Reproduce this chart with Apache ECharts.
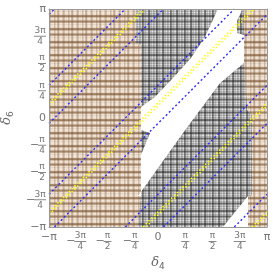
<!DOCTYPE html>
<html><head><meta charset="utf-8">
<script src="https://cdn.jsdelivr.net/npm/echarts@6/dist/echarts.min.js"></script>
<style>html,body{margin:0;padding:0;background:#fff}#c{width:273px;height:273px}</style>
</head><body><div id="c"></div>
<script>
// all coordinates in units of π
const tickValues = [-1, -0.75, -0.5, -0.25, 0, 0.25, 0.5, 0.75, 1];
const tickSigns = ['−', '−', '−', '−', '', '', '', '', ''];
const tickNumerators = ['π', '3π', 'π', 'π', '0', 'π', 'π', '3π', 'π'];
const tickDenominators = ['', '4', '2', '4', '', '4', '2', '4', ''];

// dashed blue lines δ6 = δ4 + c  (c in units of π)
const blueOffsets = [-1.7, -1.05, -0.7, -0.05, 0.3, 0.95, 1.3, 1.95];
// dotted yellow lines δ6 = δ4 + c
const yellowOffsets = [-1.875, -0.875, 0.125, 1.125];

// regions [δ4/π, δ6/π]
const tanRegion = [[-1, -1], [1, -1], [1, 1], [-1, 1]];
const grayRegion = [[-0.202, 1.0], [0.789, 1.0], [0.789, 0.505], [0.817, 0.073], [0.862, 0.028],
  [0.862, -0.706], [0.826, -0.725], [0.826, -1.0], [-0.183, -1.0], [-0.156, -0.706],
  [-0.156, 0.670], [-0.202, 0.688]];
const whiteBand = [[0.550, 1.0], [0.771, 1.0], [0.752, 0.945], [0.725, 0.899], [0.725, 0.780],
  [0.789, 0.761], [0.789, 0.505], [0.569, 0.321], [0.229, -0.138], [-0.183, -0.716],
  [-0.156, -0.716], [-0.156, -0.339], [-0.073, -0.138], [-0.156, -0.110], [-0.156, 0.101],
  [-0.028, 0.193], [0.138, 0.367], [0.303, 0.550], [0.431, 0.743], [0.495, 0.881]];
const whiteCorner = [[0.596, -1.0], [0.826, -0.716], [0.826, -1.0]];

// plaid textures (decoration)
const tanH = [0.0, 0.1, 0.85, 1.0, 0.35, 0.0, 0.05, 0.5, 0.9, 0.6, 0.0, 0.15, 0.0];
const tanV = [0.0, 0.6, 0.8, 0.2, 0.0, 0.0, 0.3, 0.7, 0.5, 0.0, 0.1, 0.0, 0.6, 0.3];
const grayH = [0.3, 0.2, 0.9, 1.0, 0.3, 0.0, 0.3, 0.4, 0.95, 0.5, 0.1, 0.35, 0.0];
const grayV = [0.3, 0.0, 0.9, 0.7, 0.2, 0.35, 0.1, 0.0, 0.8, 0.9, 0.2, 0.3, 0.0, 0.4];
function plaid(H, V, light, dark, kh, kv) {
  const c = document.createElement('canvas');
  c.width = V.length; c.height = H.length;
  const ctx = c.getContext('2d');
  const img = ctx.createImageData(c.width, c.height);
  for (let y = 0; y < c.height; y++) for (let x = 0; x < c.width; x++) {
    const d = 1 - (1 - kh * H[y]) * (1 - kv * V[x]);
    const i = (y * c.width + x) * 4;
    for (let k = 0; k < 3; k++) img.data[i + k] = Math.round(light[k] * (1 - d) + dark[k] * d);
    img.data[i + 3] = 255;
  }
  ctx.putImageData(img, 0, 0);
  return c;
}
const tanFill = { image: plaid(tanH, tanV, [243, 230, 216], [122, 84, 50], 0.7, 0.5), repeat: 'repeat' };
const grayFill = { image: plaid(grayH, grayV, [226, 226, 226], [20, 20, 20], 0.55, 0.55), repeat: 'repeat' };

function labelFor(v) {
  const i = tickValues.findIndex(t => Math.abs(t - v) < 1e-6);
  if (i < 0) return '';
  const s = tickSigns[i], n = tickNumerators[i], d = tickDenominators[i];
  if (!d) return '{t|' + s + n + '}';
  const w = n.length > 1 ? 'W' : 'N';
  if (s) return '{sp| }{n' + w + '|' + n + '}\n{m|' + s + '}{b' + w + '| }\n{sp| }{n' + w + '|' + d + '}';
  return '{n' + w + '|' + n + '}\n{b' + w + '| }\n{n' + w + '|' + d + '}';
}
const labelRich = {
  t: { fontSize: 11, color: '#777', fontFamily: 'DejaVu Sans' },
  nN: { fontSize: 9, color: '#777', width: 8, align: 'center', lineHeight: 8, fontFamily: 'DejaVu Sans' },
  nW: { fontSize: 9, color: '#777', width: 12, align: 'center', lineHeight: 8, fontFamily: 'DejaVu Sans' },
  bN: { width: 8, height: 1, backgroundColor: '#888', lineHeight: 3 },
  bW: { width: 12, height: 1, backgroundColor: '#888', lineHeight: 3 },
  m: { fontSize: 11, color: '#777', width: 8, align: 'left', lineHeight: 3, fontFamily: 'DejaVu Sans' },
  sp: { width: 8, lineHeight: 8, fontSize: 9 }
};
const nameRich = {
  i: { fontSize: 13, fontStyle: 'italic', color: '#666', fontFamily: 'DejaVu Serif', lineHeight: 16, verticalAlign: 'middle' },
  s: { fontSize: 9, color: '#666', fontFamily: 'DejaVu Sans', lineHeight: 16, verticalAlign: 'bottom' }
};

function polySeries(points, fill, z) {
  return {
    type: 'custom', coordinateSystem: 'cartesian2d', data: [[0, 0]], silent: true, z: z,
    renderItem: (p, api) => ({ type: 'polygon', shape: { points: points.map(pt => api.coord(pt)) }, style: { fill: fill } })
  };
}
function seg(c) {
  const x0 = Math.max(-1, -1 - c), x1 = Math.min(1, 1 - c);
  return x0 < x1 ? [[x0, x0 + c], [x1, x1 + c]] : [];
}
const series = [
  polySeries(tanRegion, tanFill, 1),
  polySeries(grayRegion, grayFill, 2),
  polySeries(whiteBand, '#fff', 3),
  polySeries(whiteCorner, '#fff', 3)
];
yellowOffsets.forEach(c => [-0.014, 0.014].forEach(e => series.push({
  type: 'line', data: seg(c + e), symbol: 'none', silent: true, z: 5,
  lineStyle: { color: '#ffff10', width: 1.5, type: [1.5, 2.5] }
})));
blueOffsets.forEach(c => series.push({
  type: 'line', data: seg(c), symbol: 'none', silent: true, z: 6,
  lineStyle: { color: '#2a2aff', width: 1.4, type: [2, 2.5] }
}));

const axisCommon = { type: 'value', min: -1, max: 1, interval: 0.25, splitLine: { show: false }, axisTick: { show: false },
  axisLine: { show: true, onZero: false, lineStyle: { color: '#999', width: 1 } }, z: 10 };
const chart = echarts.init(document.getElementById('c'), null, { renderer: 'canvas' });
chart.setOption({
  animation: false,
  grid: { left: 49, right: 6, top: 9, bottom: 46, outerBoundsMode: 'none', containLabel: false },
  xAxis: [
    Object.assign({}, axisCommon, { position: 'bottom', name: '{i|δ}{s|4}', nameLocation: 'middle', nameGap: 28,
      nameTextStyle: { rich: nameRich },
      axisLabel: { formatter: labelFor, rich: labelRich, margin: 5, color: '#777' } }),
    Object.assign({}, axisCommon, { position: 'top', axisLabel: { show: false } })
  ],
  yAxis: [
    Object.assign({}, axisCommon, { position: 'left', name: '{i|δ}{s|6}', nameLocation: 'middle', nameGap: 29,
      nameTextStyle: { rich: nameRich },
      axisLabel: { formatter: labelFor, rich: labelRich, margin: 3, color: '#777' } }),
    Object.assign({}, axisCommon, { position: 'right', axisLabel: { show: false } })
  ],
  series: series
});
</script></body></html>
